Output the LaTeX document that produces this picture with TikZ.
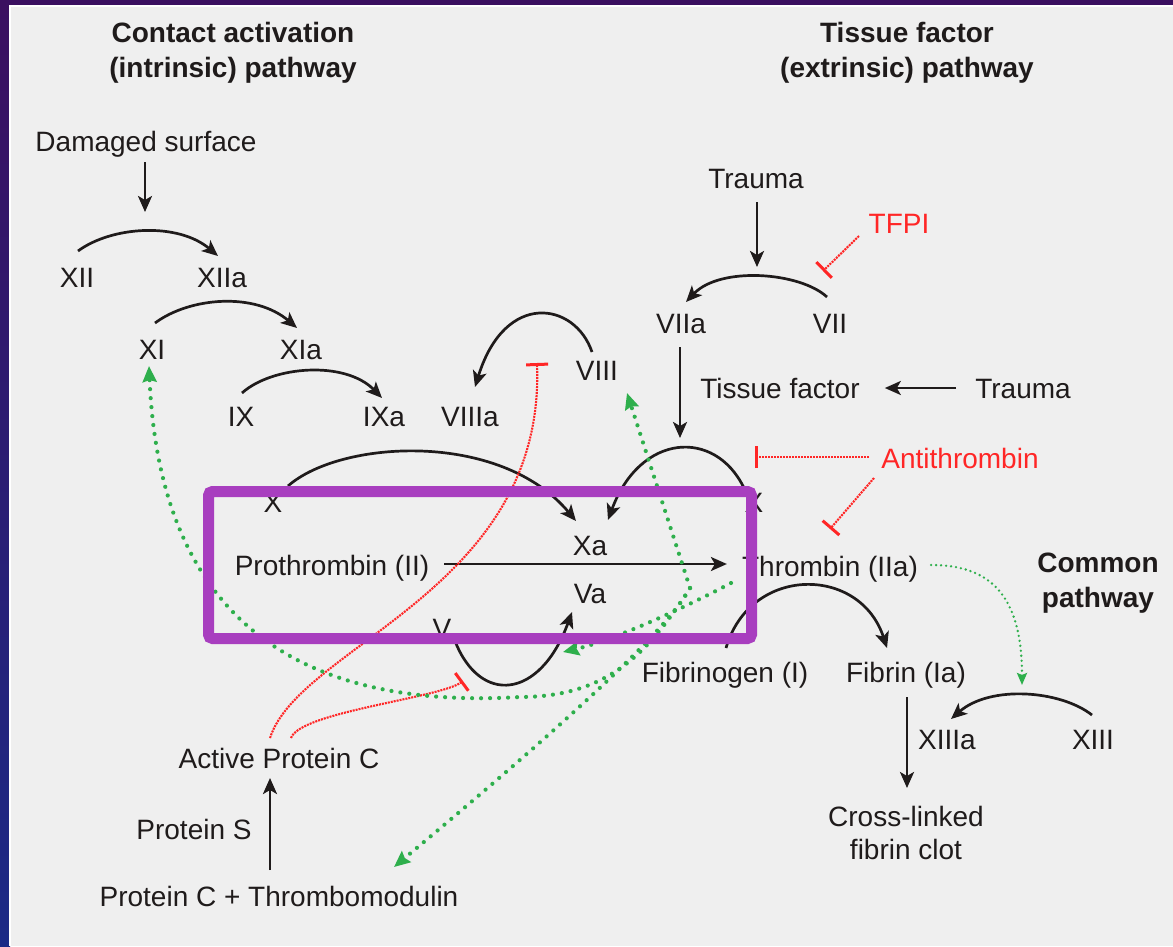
\documentclass[tikz,border=0pt]{standalone}
\usepackage{fontspec}
\setmainfont{Liberation Sans}
\usetikzlibrary{arrows.meta}
\definecolor{ink}{HTML}{1F1B1B}
\definecolor{bg}{HTML}{EFEFEF}
\definecolor{inhred}{HTML}{FF2626}
\definecolor{fbgreen}{HTML}{2EAF4C}
\definecolor{hilite}{HTML}{A83EBF}
\definecolor{edgetop}{HTML}{3B1060}
\definecolor{edgebot}{HTML}{1B2A86}
\begin{document}
\begin{tikzpicture}[x=1pt,y=-1pt,
  lab/.style={font=\fontsize{28}{34}\selectfont, text=ink, inner sep=0pt, text height=20pt, text depth=0pt},
  red lab/.style={lab, text=inhred},
  multi/.style={font=\fontsize{28}{35}\selectfont, text=ink, inner sep=0pt, align=center},
  ttl/.style={multi, font=\fontsize{28}{35}\selectfont\bfseries},
  conv/.style={draw=ink, line width=2.7pt, -{Stealth[length=16pt,width=14pt,inset=4pt]}},
  inhib/.style={draw=inhred, line width=2.1pt, dash pattern=on 2pt off 1pt, -{Bar[width=22pt,line width=3pt]}},
  fb/.style={draw=fbgreen, line width=4.2pt, line cap=round, dash pattern=on 0pt off 9pt, -{Stealth[length=16pt,width=14pt,inset=2pt]}},
  fbfine/.style={draw=fbgreen, line width=2.6pt, line cap=round, dash pattern=on 0pt off 5pt, -{Stealth[length=12pt,width=10pt,inset=2pt]}},
  frame/.style={draw=hilite, line width=11pt, rounded corners=4pt}
]
\useasboundingbox (0,0) rectangle (1173,946);
% slide background
\fill[edgetop] (0,0) rectangle (1173,946);
\shade[top color=edgetop, bottom color=edgebot] (0,0) rectangle (10,946);
\fill[bg] (9,5) rectangle (1173,946);
\draw[white, line width=1.5pt] (10,946) -- (10,6) -- (1173,6);

% labels
\node[ttl] (tA) at (233,53) {Contact activation\\(intrinsic) pathway};
\node[ttl] (tB) at (907,53) {Tissue factor\\(extrinsic) pathway};
\node[lab] (ds) at (146,141) {Damaged surface};
\node[lab] (xii) at (77,277) {XII};
\node[lab] (xiia) at (222,277) {XIIa};
\node[lab] (xi) at (152,349) {XI};
\node[lab] (xia) at (301,349) {XIa};
\node[lab] (ix) at (241,416) {IX};
\node[lab] (ixa) at (384,416) {IXa};
\node[lab] (viiia) at (470,416) {VIIIa};
\node[lab] (viii) at (597,370) {VIII};
\node[lab] (trA) at (756,178) {Trauma};
\node[red lab] (tfpi) at (899,223) {TFPI};
\node[lab] (viia) at (681,323) {VIIa};
\node[lab] (vii) at (830,323) {VII};
\node[lab] (tf) at (780,388) {Tissue factor};
\node[lab] (trB) at (1023,388) {Trauma};
\node[red lab] (anti) at (960,458) {Antithrombin};
\node[lab] (xl) at (273,502) {X};
\node[lab] (xr) at (754,502) {X};
\node[lab] (xa) at (590,545) {Xa};
\node[lab] (va) at (590,593) {Va};
\node[lab] (v) at (442,628) {V};
\node[lab] (pro) at (332,565) {Prothrombin (II)};
\node[lab] (thr) at (830,566) {Thrombin (IIa)};
\node[ttl] (com) at (1098,583) {Common\\pathway};
\node[lab] (fgn) at (725,672) {Fibrinogen (I)};
\node[lab] (fib) at (906,672) {Fibrin (Ia)};
\node[lab] (xiiia) at (947,739) {XIIIa};
\node[lab] (xiii) at (1093,739) {XIII};
\node[multi, font=\fontsize{28}{33}\selectfont] (clot) at (906,833) {Cross-linked\\fibrin clot};
\node[lab] (apc) at (279,758) {Active Protein C};
\node[lab] (ps) at (194,829) {Protein S};
\node[lab] (pctm) at (279,896) {Protein C + Thrombomodulin};

% black conversions
\draw[conv] ([shift={(-1,21)}]ds.center) -- ([shift={(-1,71)}]ds.center);
\draw[conv] ([shift={(1,-26)}]xii.center) .. controls (112,226) and (178,222) .. ([shift={(-4,-21)}]xiia.center);
\draw[conv] ([shift={(3,-26)}]xi.center) .. controls (190,297) and (255,292) .. ([shift={(-4,-21)}]xia.center);
\draw[conv] ([shift={(1,-23)}]ix.center) .. controls (272,366) and (345,360) .. ([shift={(-2,-18)}]ixa.center);
\draw[conv] ([shift={(-5,-18)}]viii.center) .. controls (575,302) and (505,290) .. ([shift={(5,-29)}]viiia.center);
\draw[conv] ([shift={(1,24)}]trA.center) -- ([shift={(1,89)}]trA.center);
\draw[conv] ([shift={(-3,-26)}]vii.center) .. controls (800,272) and (720,266) .. ([shift={(5,-21)}]viia.center);
\draw[conv] ([shift={(-19,0)}]trB.west) -- ([shift={(25,0)}]tf.east);
\draw[conv] ([shift={(-1,24)}]viia.center) -- ([shift={(-1,115)}]viia.center);
\draw[conv] ([shift={(-10,-14)}]xr.center) .. controls (715,428) and (640,433) .. ([shift={(18,-25)}]xa.center);
\draw[conv] ([shift={(15,-16)}]xl.center) .. controls (340,440) and (500,430) .. ([shift={(-14,-24)}]xa.center);
\draw[conv] ([shift={(15,-1)}]pro.east) -- ([shift={(-15,-2)}]thr.west);
\draw[conv] ([shift={(13,13)}]v.center) .. controls (480,705) and (540,700) .. ([shift={(-18,19)}]va.center);
\draw[conv] ([shift={(1,-24)}]fgn.center) .. controls (750,565) and (860,565) .. ([shift={(-19,-24)}]fib.center);
\draw[conv] ([shift={(1,25)}]fib.center) -- ([shift={(1,-45)}]clot.center);
\draw[conv] ([shift={(-1,-24)}]xiii.center) .. controls (1060,690) and (990,685) .. ([shift={(4,-20)}]xiiia.center);
\draw[conv] ([shift={(-9,-26)}]pctm.center) -- ([shift={(-9,20)}]apc.center);

% red inhibitions
\draw[inhib] ([shift={(-40,13)}]tfpi.center) -- ([shift={(-76,48)}]tfpi.center);
\draw[inhib] ([shift={(-12,-1)}]anti.west) -- ([shift={(-126,-1)}]anti.west);
\draw[inhib] ([shift={(-86,20)}]anti.center) -- ([shift={(0,-37)}]thr.center);
\draw[inhib] ([shift={(-9,-20)}]apc.center) .. controls (300,645) and (545,590) .. ([shift={(-60,-7)}]viii.center);
\draw[inhib] ([shift={(12,-20)}]apc.center) .. controls (300,712) and (440,698) .. ([shift={(21,53)}]v.center);

% green thrombin feedback
\coordinate (o) at ([shift={(-140,22)}]thr.center);
\draw[fb] (o) -- ([shift={(30,23)}]viii.center);
\draw[fb] (o) .. controls (665,635) and (540,745) .. ([shift={(115,-29)}]pctm.center);
\draw[fb] (o) .. controls (650,650) and (610,697) .. (520,697) .. controls (300,710) and (160,620) .. ([shift={(-3,17)}]xi.center);
\draw[fb] ([shift={(-99,17)}]thr.center) .. controls (690,605) and (615,640) .. ([shift={(-27,59)}]va.center);
\draw[fbfine] ([shift={(13,-1)}]thr.east) .. controls (990,565) and (1022,595) .. ([shift={(-71,-54)}]xiii.center);

% highlight frame
\draw[frame] (208.5,491.5) rectangle (751.5,638.5);
\end{tikzpicture}
\end{document}
